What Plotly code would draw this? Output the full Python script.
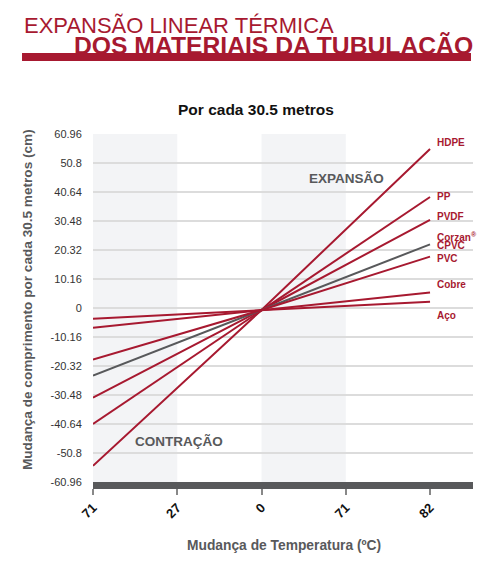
import plotly.graph_objects as go

# data
x_pos = [0, 2, 4]
x_tick_labels = ["71", "27", "0", "71", "82"]
y_ticks = [-60.96, -50.8, -40.64, -30.48, -20.32, -10.16, 0, 10.16, 20.32, 30.48, 40.64, 50.8, 60.96]

materials = ["HDPE", "PP", "PVDF", "CPVC", "PVC", "Cobre", "Aço"]
left_vals = [-55.3, -40.6, -31.4, -23.7, -18.1, -6.9, -3.75]
center_vals = [-0.7, -0.7, -0.7, -0.7, -0.7, -0.7, -0.7]
right_vals = [55.7, 38.9, 30.9, 22.3, 18.0, 5.4, 2.2]

label_text = ["HDPE", "PP", "PVDF", "Corzan<sup>®</sup>", "CPVC", "PVC", "Cobre", "Aço"]
label_y = [58.0, 39.1, 32.1, 24.9, 21.9, 17.2, 8.1, -2.7]

RED = "#a71930"
GRAY = "#58595b"
FONT = "Liberation Sans, Arial, sans-serif"

fig = go.Figure()

for i, m in enumerate(materials):
    fig.add_trace(go.Scatter(
        x=x_pos, y=[left_vals[i], center_vals[i], right_vals[i]],
        mode="lines", name=m,
        line=dict(color=GRAY if m == "CPVC" else RED, width=2),
        hoverinfo="skip"))

# light shaded bands
for x0 in [0, 2]:
    fig.add_shape(type="rect", xref="x", yref="paper", x0=x0, x1=x0 + 1, y0=0, y1=1,
                  fillcolor="#f3f4f6", line_width=0, layer="below")

# red bar under the header
fig.add_shape(type="rect", xref="paper", yref="paper", x0=-0.1868, x1=0.9947, y0=1.2098, y1=1.2328,
              fillcolor=RED, line_width=0)

for t, y in zip(label_text, label_y):
    fig.add_annotation(x=4.06, y=y, xref="x", yref="y", text="<b>" + t + "</b>", showarrow=False,
                       xanchor="left", yanchor="middle", font=dict(size=10, color=RED))

fig.add_annotation(x=3.01, y=45.5, text="<b>EXPANSÃO</b>", showarrow=False,
                   xanchor="center", yanchor="middle", font=dict(size=13.5, color=GRAY))
fig.add_annotation(x=1.02, y=-46.7, text="<b>CONTRAÇÃO</b>", showarrow=False,
                   xanchor="center", yanchor="middle", font=dict(size=13.5, color=GRAY))

# headers and titles
fig.add_annotation(x=-0.1868, y=1.3132, xref="paper", yref="paper", text="EXPANSÃO LINEAR TÉRMICA",
                   showarrow=False, xanchor="left", yanchor="middle", font=dict(size=22, color=RED))
fig.add_annotation(x=-0.0553, y=1.2543, xref="paper", yref="paper", text="<b>DOS MATERIAIS DA TUBULAÇÃO</b>",
                   showarrow=False, xanchor="left", yanchor="middle", font=dict(size=24.7, color=RED))
fig.add_annotation(x=0.429, y=1.0718, xref="paper", yref="paper", text="<b>Por cada 30.5 metros</b>",
                   showarrow=False, xanchor="center", yanchor="middle", font=dict(size=15.5, color="#111111"))
fig.add_annotation(x=-0.171, y=0.523, xref="paper", yref="paper", textangle=-90,
                   text="<b>Mudança de comprimento por cada 30.5 metros (cm)</b>",
                   showarrow=False, xanchor="center", yanchor="middle", font=dict(size=13.6, color=GRAY))
fig.add_annotation(x=0.5026, y=-0.1839, xref="paper", yref="paper",
                   text="<b>Mudança de Temperatura (ºC)</b>",
                   showarrow=False, xanchor="center", yanchor="middle", font=dict(size=13.8, color=GRAY))

fig.update_layout(
    width=500, height=572,
    margin=dict(l=85, r=35, t=126, b=98),
    paper_bgcolor="white", plot_bgcolor="white",
    showlegend=False,
    font=dict(family=FONT, color="#333333"),
    xaxis=dict(
        range=[0, 4.51], tickvals=[0, 1, 2, 3, 4], ticktext=["<b>" + t + "</b>" for t in x_tick_labels],
        tickangle=-45, tickfont=dict(size=13, color="#111111"),
        showgrid=False, zeroline=False,
        showline=True, linecolor=GRAY, linewidth=7,
        ticks="outside", ticklen=6, tickwidth=1.5, tickcolor="#888888"),
    yaxis=dict(
        range=[-60.96, 60.96], tickvals=y_ticks, ticktext=["%g" % v for v in y_ticks],
        tickfont=dict(size=11, color="#333333"),
        showgrid=True, gridcolor="#dcdcdc", gridwidth=1.5, zeroline=False,
        ticks="outside", ticklen=8, tickcolor="rgba(0,0,0,0)"),
)

fig.write_html("out.html")
